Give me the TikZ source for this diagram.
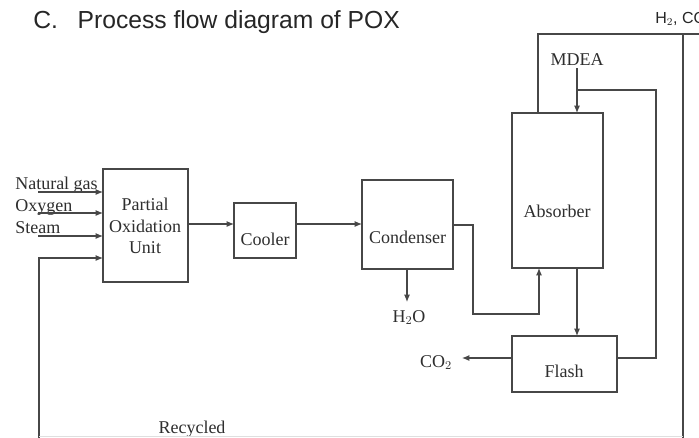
\documentclass[tikz,border=0pt]{standalone}
\usepackage{fontspec}
\setmainfont{Liberation Serif}
\newfontfamily\sansf{Liberation Sans}
\usetikzlibrary{arrows.meta}
\definecolor{linec}{gray}{0.28}
\definecolor{textc}{gray}{0.18}
\begin{document}
\begin{tikzpicture}[x=0.75pt,y=-0.75pt,
  line/.style={draw=linec, line width=0.8pt},
  arr/.style={line, -{Latex[length=5.5pt,width=4.5pt]}},
  box/.style={draw=linec, line width=0.8pt, inner sep=0pt, outer sep=0pt, rectangle},
  lbl/.style={text=textc, font=\fontsize{13.5}{16}\selectfont, inner sep=0pt},
  ]
\useasboundingbox (0,0) rectangle (699,437);
\fill[white] (0,0) rectangle (699,437);
\clip (0,0) rectangle (699,437);

% title
\node[anchor=base west, inner sep=0pt, text=black!85, font=\sansf\fontsize{18.5}{21}\selectfont] (title) at (33,28) {C.\hspace{0.8em}Process flow diagram of POX};
\node[anchor=base west, inner sep=0pt, text=black!85, font=\sansf\fontsize{12}{14}\selectfont] (h2co) at (655,23) {H$_2$, CO};

% boxes
\node[box, minimum width=85*0.75pt, minimum height=113*0.75pt] (pox) at (145.5,225.5) {};
\node[box, minimum width=62*0.75pt, minimum height=55*0.75pt] (cool) at (265,230.5) {};
\node[box, minimum width=91*0.75pt, minimum height=89*0.75pt] (cond) at (407.5,224.5) {};
\node[box, minimum width=91*0.75pt, minimum height=155*0.75pt] (abs) at (557.5,190.5) {};
\node[box, minimum width=105*0.75pt, minimum height=56*0.75pt] (fl) at (564.5,364) {};

% box texts
\node[lbl, anchor=base] (t1) at (145,210) {Partial};
\node[lbl, anchor=base] (t2) at (145,232) {Oxidation};
\node[lbl, anchor=base] (t3) at (145,253) {Unit};
\node[lbl, anchor=base] (tcool) at (265,245) {Cooler};
\node[lbl, anchor=base] (tcond) at (407.5,243) {Condenser};
\node[lbl, anchor=base] (tabs) at (557,217) {Absorber};
\node[lbl, anchor=base] (tfl) at (564,377) {Flash};

% stream labels
\node[lbl, anchor=base west] (ng) at (15,189) {Natural gas};
\node[lbl, anchor=base west] (ox) at (15,211) {Oxygen};
\node[lbl, anchor=base west] (st) at (15,233) {Steam};
\node[lbl, anchor=base] (h2o) at (409,322) {H$_2$O};
\node[lbl, anchor=base] (co2) at (436,367) {CO$_2$};
\node[lbl, anchor=base] (mdea) at (577,65) {MDEA};
\node[lbl, anchor=base] (rec) at (192,433) {Recycled};

% helper coordinates
\coordinate (ng0) at (38,192);
\coordinate (ox0) at (38,213);
\coordinate (st0) at (38,236);
\coordinate (rc0) at (39,440);
\coordinate (rcy) at (0,258);
\coordinate (ya) at (0,224);
\coordinate (yc) at (0,225);
\coordinate (k1) at (473,314);
\coordinate (k2) at (539,314);
\coordinate (h2oend) at (407,302);
\coordinate (co2end) at (462,358);
\coordinate (yf) at (0,358);
\coordinate (rt) at (656,90);
\coordinate (mj) at (577,90);
\coordinate (md0) at (577,68);
\coordinate (tl) at (538,34);
\coordinate (tr) at (710,34);
\coordinate (rv) at (683,34);
\coordinate (rvb) at (683,440);
\coordinate (bl) at (39,436);
\coordinate (br) at (683,436);

% feed streams
\draw[arr] (ng0) -- (pox.west |- ng0);
\draw[arr] (ox0) -- (pox.west |- ox0);
\draw[arr] (st0) -- (pox.west |- st0);
\draw[arr] (rc0) |- (pox.west |- rcy);

% main train
\draw[arr] (pox.east |- ya) -- (cool.west |- ya);
\draw[arr] (cool.east |- ya) -- (cond.west |- ya);
\draw[arr] (cond.south -| h2oend) -- (h2oend);
\draw[arr] (cond.east |- yc) -| (k1) -- (k2) -- (k2 |- abs.south);
\draw[arr] (md0) -- (abs.north -| md0);
\draw[arr] (abs.south -| mj) -- (fl.north -| mj);
\draw[arr] (fl.west |- yf) -- (co2end);
\draw[line] (fl.east |- yf) -| (rt) -- (mj);
\draw[line] (abs.north -| tl) -- (tl) -- (tr);
\draw[line] (rv) -- (rvb);
\draw[draw=gray!25, line width=0.6pt] (bl) -- (br);
\end{tikzpicture}
\end{document}
